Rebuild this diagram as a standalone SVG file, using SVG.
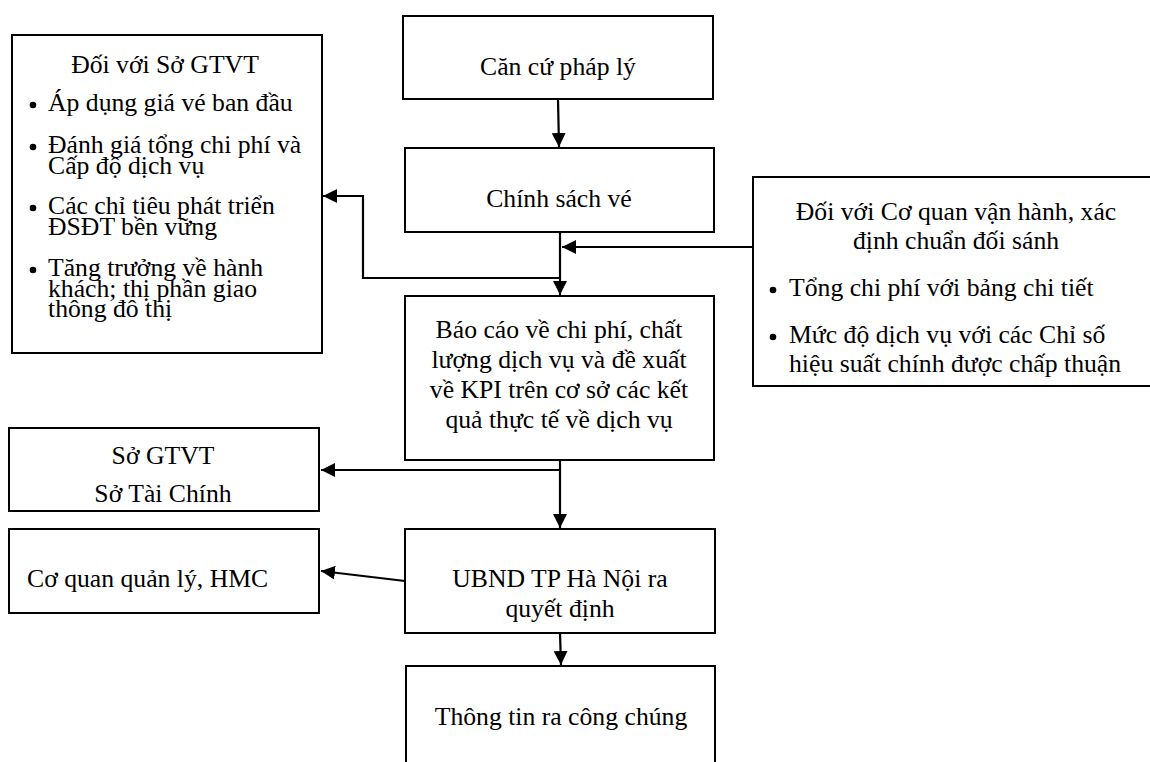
<svg xmlns="http://www.w3.org/2000/svg" width="1150" height="762" viewBox="0 0 1150 762">
  <defs>
    <style>
      .box { fill: #ffffff; stroke: #000000; stroke-width: 2; }
      .t { font-family: "Liberation Serif", "Times New Roman", serif; font-size: 25.7px; fill: #000000; }
      .c { text-anchor: middle; }
      .line { fill: none; stroke: #000000; stroke-width: 2.2; }
      .dot { fill: #000000; }
    </style>
    <marker id="arrow" viewBox="0 0 10 10" refX="10" refY="5" markerWidth="14" markerHeight="14" markerUnits="userSpaceOnUse" orient="auto">
      <path d="M0,0 L10,5 L0,10 z" fill="#000000"/>
    </marker>
  </defs>
  <rect width="1150" height="762" fill="#ffffff"/>

  <!-- connectors -->
  <g id="connectors">
    <line class="line" x1="558" y1="99" x2="559" y2="147" marker-end="url(#arrow)"/>
    <line class="line" x1="560" y1="232" x2="560" y2="295" marker-end="url(#arrow)"/>
    <line class="line" x1="753" y1="247" x2="562" y2="247" marker-end="url(#arrow)"/>
    <polyline class="line" points="560,278 363,278 363,196 323,196" marker-end="url(#arrow)"/>
    <line class="line" x1="560" y1="460" x2="560" y2="528" marker-end="url(#arrow)"/>
    <line class="line" x1="560" y1="470" x2="321" y2="470" marker-end="url(#arrow)"/>
    <line class="line" x1="405" y1="581" x2="321" y2="571" marker-end="url(#arrow)"/>
    <line class="line" x1="560" y1="633" x2="561" y2="665" marker-end="url(#arrow)"/>
  </g>

  <!-- Đối với Sở GTVT -->
  <g id="node-so-gtvt-targets">
    <rect class="box" x="12" y="35" width="310" height="318"/>
    <text class="t c" x="165" y="73">Đối với Sở GTVT</text>
    <circle class="dot" cx="33" cy="105" r="3.3"/>
    <text class="t" x="48" y="111">Áp dụng giá vé ban đầu</text>
    <circle class="dot" cx="33" cy="147" r="3.3"/>
    <text class="t" x="48" y="153">Đánh giá tổng chi phí và</text>
    <text class="t" x="48" y="174">Cấp độ dịch vụ</text>
    <circle class="dot" cx="33" cy="208" r="3.3"/>
    <text class="t" x="48" y="214">Các chỉ tiêu phát triển</text>
    <text class="t" x="48" y="235">ĐSĐT bền vững</text>
    <circle class="dot" cx="33" cy="270" r="3.3"/>
    <text class="t" x="48" y="276">Tăng trưởng về hành</text>
    <text class="t" x="48" y="297">khách; thị phần giao</text>
    <text class="t" x="48" y="317">thông đô thị</text>
  </g>

  <!-- Căn cứ pháp lý -->
  <g id="node-can-cu">
    <rect class="box" x="403" y="16" width="310" height="83"/>
    <text class="t c" x="558" y="75">Căn cứ pháp lý</text>
  </g>

  <!-- Chính sách vé -->
  <g id="node-chinh-sach">
    <rect class="box" x="405" y="148" width="309" height="84"/>
    <text class="t c" x="559" y="207">Chính sách vé</text>
  </g>

  <!-- Đối với Cơ quan vận hành -->
  <g id="node-co-quan-van-hanh">
    <rect class="box" x="753" y="177" width="410" height="209"/>
    <text class="t c" x="956" y="220">Đối với Cơ quan vận hành, xác</text>
    <text class="t c" x="956" y="249">định chuẩn đối sánh</text>
    <circle class="dot" cx="773" cy="290" r="3.3"/>
    <text class="t" x="789" y="296">Tổng chi phí với bảng chi tiết</text>
    <circle class="dot" cx="773" cy="337" r="3.3"/>
    <text class="t" x="789" y="343">Mức độ dịch vụ với các Chỉ số</text>
    <text class="t" x="789" y="372">hiệu suất chính được chấp thuận</text>
  </g>

  <!-- Báo cáo -->
  <g id="node-bao-cao">
    <rect class="box" x="405" y="296" width="309" height="164"/>
    <text class="t c" x="559" y="338">Báo cáo về chi phí, chất</text>
    <text class="t c" x="559" y="368">lượng dịch vụ và đề xuất</text>
    <text class="t c" x="559" y="398">về KPI trên cơ sở các kết</text>
    <text class="t c" x="559" y="428">quả thực tế về dịch vụ</text>
  </g>

  <!-- Sở GTVT / Sở Tài Chính -->
  <g id="node-so-gtvt-tc">
    <rect class="box" x="9" y="428" width="310" height="83"/>
    <text class="t c" x="163" y="464">Sở GTVT</text>
    <text class="t c" x="163" y="502">Sở Tài Chính</text>
  </g>

  <!-- Cơ quan quản lý, HMC -->
  <g id="node-hmc">
    <rect class="box" x="9" y="529" width="310" height="84"/>
    <text class="t" x="27" y="587">Cơ quan quản lý, HMC</text>
  </g>

  <!-- UBND -->
  <g id="node-ubnd">
    <rect class="box" x="405" y="529" width="310" height="104"/>
    <text class="t c" x="560" y="587">UBND TP Hà Nội ra</text>
    <text class="t c" x="560" y="617">quyết định</text>
  </g>

  <!-- Thông tin ra công chúng -->
  <g id="node-thong-tin">
    <rect class="box" x="406" y="666" width="309" height="110"/>
    <text class="t c" x="561" y="725">Thông tin ra công chúng</text>
  </g>
</svg>
